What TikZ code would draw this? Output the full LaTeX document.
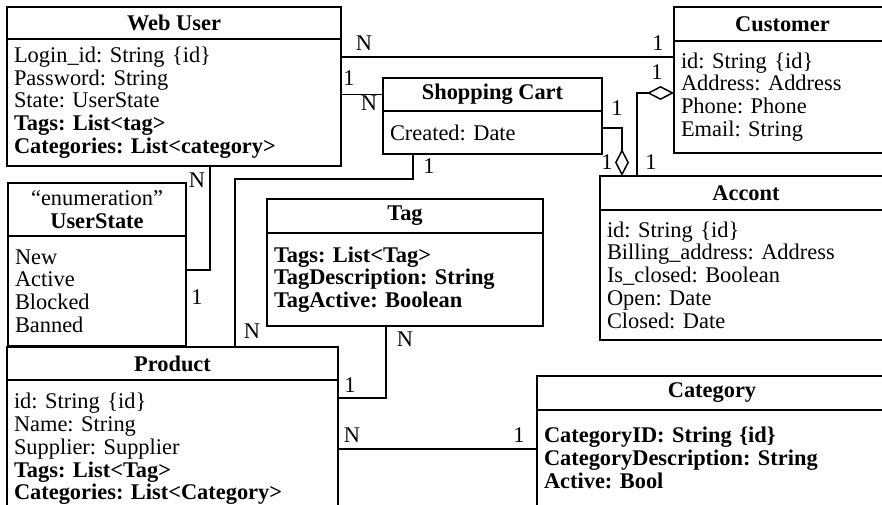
\documentclass[tikz,border=0pt]{standalone}
\usepackage{fontspec}
\setmainfont{Liberation Serif}
\usetikzlibrary{arrows.meta,positioning}
\frenchspacing

\begin{document}
\begin{tikzpicture}[x=1pt,y=-1pt,
  every node/.style={font=\fontsize{22.4}{22.8}\selectfont},
  cls/.style={draw,line width=1.5pt,outer sep=0pt,inner sep=0pt,anchor=north west,align=center,font=\fontsize{22.4}{22.8}\selectfont\bfseries},
  attr/.style={draw,line width=1.5pt,outer sep=0pt,inner xsep=7pt,inner ysep=0pt,align=left},
  card/.style={inner sep=0pt},
  link/.style={line width=1.5pt},
  agg/.style={link,-{Diamond[open,length=27pt,width=14pt]}}]
\useasboundingbox (0,0) rectangle (882,504);
\clip (0,0) rectangle (882,504);
\fill[white] (0,0) rectangle (882,504);
% classes
\node[cls,minimum width=334pt,minimum height=32pt] (wu) at (7,7) {Web User};
\node[attr,below right=0pt of wu.south west,text width=320pt,minimum height=127pt] (wub) {Login\_id: String \{id\}\\Password: String\\State: UserState\\\textbf{Tags: List<tag>}\\\textbf{Categories: List<category>}};
\node[cls,minimum width=219pt,minimum height=33pt] (cart) at (383,78) {Shopping Cart};
\node[attr,below right=0pt of cart.south west,text width=205pt,minimum height=43pt] (cartb) {Created: Date};
\node[cls,minimum width=217pt,minimum height=34pt] (cu) at (674,7) {Customer};
\node[attr,below right=0pt of cu.south west,text width=203pt,minimum height=112pt] (cub) {id: String \{id\}\\Address: Address\\Phone: Phone\\Email: String};
\node[cls,minimum width=292pt,minimum height=34pt] (acc) at (600,176) {Accont};
\node[attr,below right=0pt of acc.south west,text width=278pt,minimum height=130pt] (accb) {id: String \{id\}\\Billing\_address: Address\\Is\_closed: Boolean\\Open: Date\\Closed: Date};
\node[cls,minimum width=178pt,minimum height=53pt] (us) at (8,183) {{\mdseries “enumeration”}\\UserState};
\node[attr,below right=0pt of us.south west,text width=164pt,minimum height=110pt] (usb) {New\\Active\\Blocked\\Banned};
\node[cls,minimum width=276pt,minimum height=34pt] (tag) at (267,199) {Tag};
\node[attr,below right=0pt of tag.south west,text width=262pt,minimum height=93pt,font=\fontsize{22.4}{22.8}\selectfont\bfseries] (tagb) {Tags: List<Tag>\\TagDescription: String\\TagActive: Boolean};
\node[cls,minimum width=331pt,minimum height=33pt] (prod) at (7,347) {Product};
\node[attr,below right=0pt of prod.south west,text width=317pt,minimum height=138pt] (prodb) {id: String \{id\}\\Name: String\\Supplier: Supplier\\\textbf{Tags: List<Tag>}\\\textbf{Categories: List<Category>}};
\node[cls,minimum width=350pt,minimum height=34pt] (cat) at (537,376) {Category};
\node[attr,below right=0pt of cat.south west,text width=336pt,minimum height=96pt,font=\fontsize{22.4}{22.8}\selectfont\bfseries] (catb) {CategoryID: String \{id\}\\CategoryDescription: String\\Active: Bool};
% associations
\draw[link] (wub.east |- 0,57) -- (cub.west |- 0,57);
\draw[link] (cart.west) -- (cart.west -| wub.east);
\draw[link] (wub.south -| 210,0) |- (usb.east |- 0,270);
\draw[link] (cartb.south -| 413,0) |- (235,179) -- (prod.north -| 235,0);
\draw[link] (tagb.south -| 386,0) |- (prodb.east |- 0,398);
\draw[link] (prodb.east) -- (prodb.east -| catb.west);
\draw[agg] (cartb.east |- 0,128) -| (acc.north -| 622,0);
\draw[agg] (acc.north -| 637,0) |- (cub.west |- 0,93);
% multiplicities
\foreach \t/\x/\y [count=\i] in {N/364/43,1/658/43,1/349/78,N/369/103,N/197/180,1/197/297,
    1/429/166,N/252/331,N/405/339,1/350/385,N/352/435,1/519/435,
    1/617/108,1/607/162,1/657/72,1/651/162}
  \node[card] (m\i) at (\x,\y) {\t};
\end{tikzpicture}
\end{document}
